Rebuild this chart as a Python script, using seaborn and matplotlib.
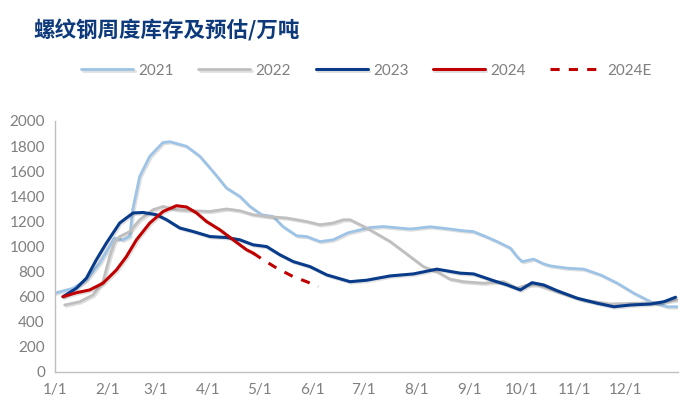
import pandas as pd
import matplotlib
matplotlib.use("Agg")
import matplotlib.pyplot as plt
import matplotlib.patheffects as pe
import seaborn as sns

# ── Data (day of year, inventory in 10k tonnes) ───────────────────────────────
days_2021 = [0, 10.7, 18.6, 26.4, 32.2, 35.2, 39.9, 44, 45.7, 49.8, 55.7, 63.3, 67.4,
             77.2, 85, 92.6, 100.6, 108.4, 114.3, 121.2, 127.8, 133.6, 141.7, 147.5,
             155.3, 163, 171.7, 184.6, 192.3, 208.1, 219.8, 231.5, 239.2, 245, 253,
             258.9, 266.7, 270.6, 273.6, 280.4, 286.2, 290.2, 299.9, 309.7, 319.5,
             329.3, 339, 348.8, 358.6, 365]
vals_2021 = [626, 665, 732, 866, 998, 1066, 1050, 1080, 1292, 1558, 1718, 1827, 1835,
             1798, 1718, 1598, 1465, 1398, 1318, 1252, 1238, 1158, 1084, 1078,
             1038, 1052, 1108, 1150, 1158, 1138, 1156, 1138, 1124, 1118, 1074,
             1038, 986, 918, 878, 898, 860, 844, 826, 818, 772,
             706, 626, 558, 518, 518]

days_2022 = [5.9, 14.7, 22.5, 28.3, 32.2, 35.2, 38.1, 44, 49.8, 57.6, 63.5, 71.3, 81.1,
             90.9, 100.6, 108.4, 116.2, 124.1, 135.8, 147.5, 155.3, 163, 169, 172.9,
             182.7, 196.4, 208.1, 215.9, 223.7, 231.5, 239.3, 251, 262.8, 270.6,
             276.5, 282.4, 294.1, 309.7, 325.3, 339, 352.7, 364.4]
vals_2022 = [532, 558, 612, 718, 918, 1038, 1078, 1118, 1212, 1292, 1318, 1292, 1284,
             1278, 1298, 1284, 1252, 1238, 1226, 1198, 1172, 1186, 1212, 1212,
             1146, 1038, 918, 838, 798, 738, 718, 706, 718, 666,
             692, 692, 638, 572, 540, 546, 550, 572]

days_2023 = [4.9, 12.7, 18.6, 24.4, 30.3, 38.1, 45.9, 51.8, 59.6, 65.5, 73.3, 81.1,
             90.9, 100.6, 108.4, 116.2, 124.1, 131.9, 139.7, 149.5, 159.3, 172.9,
             182.7, 196.4, 210, 223.7, 237.4, 245.2, 256.9, 264.8, 272.6, 279.4,
             286.2, 294.1, 305.8, 317.5, 327.3, 337, 348.8, 356.6, 363.4]
vals_2023 = [598, 665, 746, 892, 1026, 1186, 1266, 1270, 1252, 1212, 1146, 1118,
             1078, 1070, 1052, 1012, 998, 932, 878, 838, 772, 718,
             730, 764, 780, 818, 786, 780, 726, 692, 652, 710,
             692, 646, 586, 546, 518, 532, 540, 558, 594]

days_2024 = [4.9, 12.7, 20.5, 28.3, 36.2, 42, 47.9, 55.7, 63.5, 71.3, 77.2, 83.1,
             88.9, 96.7, 104.5, 112.4, 116.2]
vals_2024 = [598, 630, 652, 706, 812, 918, 1052, 1186, 1278, 1324, 1314, 1266,
             1198, 1132, 1052, 972, 946]

days_2024e = [116.2, 122.1, 130, 139.7, 147.5, 154.3]
vals_2024e = [946, 892, 826, 758, 718, 678]

month_days = [0, 31, 59, 90, 120, 151, 181, 212, 243, 273, 304, 334, 365]
month_labels = ["1/1", "2/1", "3/1", "4/1", "5/1", "6/1", "7/1", "8/1", "9/1",
                "10/1", "11/1", "12/1", ""]

SERIES = ["2021", "2022", "2023", "2024", "2024E"]
COLORS = ["#9DC3E6", "#BFBFBF", "#083B8A", "#C00000", "#C00000"]
WIDTHS = [2.0, 2.0, 2.2, 2.2, 2.2]
STYLES = ["-", "-", "-", "-", (0, (3, 3))]

# ── Build long table ──────────────────────────────────────────────────────────
frames = []
for name, d, v in zip(SERIES,
                      [days_2021, days_2022, days_2023, days_2024, days_2024e],
                      [vals_2021, vals_2022, vals_2023, vals_2024, vals_2024e]):
    frames.append(pd.DataFrame({"day": d, "value": v, "series": name}))
df = pd.concat(frames, ignore_index=True)

# ── Plot ──────────────────────────────────────────────────────────────────────
sns.set_theme(style="white")
plt.rcParams["font.family"] = ["Lato", "DejaVu Sans"]

fig = plt.figure(figsize=(7, 4.2), dpi=100)
ax = fig.add_axes([0.078, 0.115, 0.891, 0.597])

shadow = [pe.SimpleLineShadow(offset=(1.0, -1.0), shadow_color="#000000", alpha=0.12),
          pe.Normal()]
for name, color, lw, ls in zip(SERIES, COLORS, WIDTHS, STYLES):
    sub = df[df["series"] == name]
    sns.lineplot(data=sub, x="day", y="value", ax=ax, color=color, linewidth=lw,
                 linestyle=ls, label=name, sort=False, estimator=None,
                 path_effects=shadow if ls == "-" else None)

ax.set_xlim(0, 365)
ax.set_ylim(0, 2000)
ax.set_yticks(range(0, 2001, 200))
ax.set_xticks(month_days)
ax.set_xticklabels(month_labels)
ax.set_xlabel("")
ax.set_ylabel("")

for s in ["top", "right"]:
    ax.spines[s].set_visible(False)
for s in ["left", "bottom"]:
    ax.spines[s].set_color("#BFBFBF")
    ax.spines[s].set_linewidth(1.0)

ax.tick_params(axis="x", direction="in", length=4, color="#BFBFBF", width=1,
               labelsize=11, labelcolor="#7F7F7F", pad=8)
ax.tick_params(axis="y", direction="out", length=4, color="#BFBFBF", width=1,
               labelsize=11, labelcolor="#7F7F7F", pad=3)

leg = ax.legend(loc="center", bbox_to_anchor=(0.5, 1.2), ncol=5,
                frameon=False, fontsize=11, handlelength=3.4, handletextpad=0.35,
                columnspacing=1.6)
for t in leg.get_texts():
    t.set_color("#7F7F7F")

fig.text(0.047, 0.928, "螺纹钢周度库存及预估/万吨", fontsize=15.5, fontweight="bold",
         color="#0E3A7C", family=["Noto Sans CJK SC", "DejaVu Sans"], va="center")

fig.savefig("out.png", dpi=100, facecolor="white")
